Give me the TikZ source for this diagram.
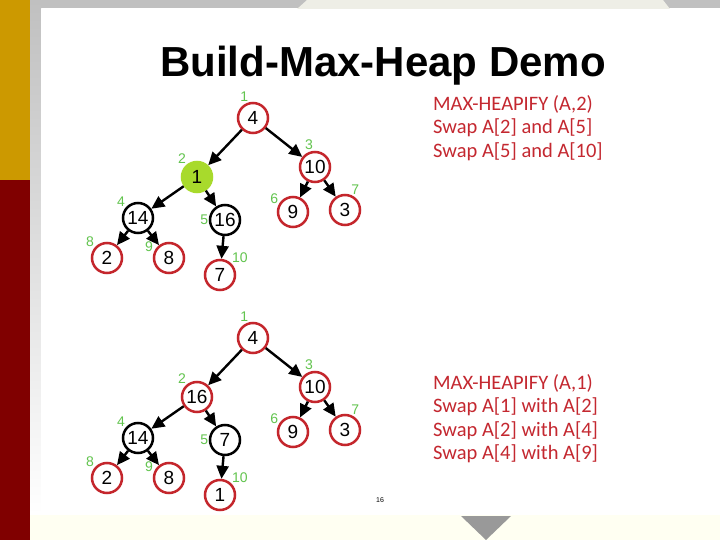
\documentclass[tikz,border=0pt]{standalone}
\usepackage{fontspec}
\setmainfont{Liberation Sans}
\newfontfamily\calibri{Carlito}
\usepackage{xcolor}
\usetikzlibrary{arrows.meta, positioning, calc}

\definecolor{heapred}{RGB}{196,38,44}
\definecolor{steptxt}{RGB}{196,40,48}
\definecolor{idxgreen}{RGB}{98,196,78}
\definecolor{hotgreen}{RGB}{168,218,44}
\definecolor{gold}{RGB}{204,153,0}
\definecolor{maroon}{RGB}{128,0,0}
\definecolor{bandgray}{RGB}{192,192,192}
\definecolor{tabgray}{RGB}{238,238,230}
\definecolor{cream}{RGB}{255,255,242}
\definecolor{trigray}{RGB}{153,153,153}

\begin{document}
\begin{tikzpicture}[x=1pt, y=-1pt,
    heap/.style={circle, draw=heapred, line width=2.5pt, minimum size=30pt, inner sep=0pt,
                 font=\fontsize{19}{19}\selectfont, label distance=0pt},
    done/.style={heap, draw=black},
    hot/.style={heap, draw=hotgreen, fill=hotgreen},
    idx/.style={font=\fontsize{14}{14}\selectfont, text=idxgreen, inner sep=0.5pt},
    arr/.style={-{Triangle[length=13pt, width=12pt]}, line width=2.4pt},
    steps/.style={font=\calibri\fontsize{20.5}{23.5}\selectfont, text=steptxt, align=left,
                  anchor=north west, inner sep=0pt},
]
\useasboundingbox (0,0) rectangle (720,540);

% --- Slide background ---
\fill[bandgray] (30,0) rectangle (720,8);
\fill[tabgray] (307,0) -- (663,0) -- (670,9) -- (297,9) -- cycle;
\fill[top color=bandgray, bottom color=white] (30,0) rectangle (41,515);
\fill[white] (41,9) rectangle (720,515);
\fill[cream] (30,515) rectangle (720,540);
\fill[gold] (0,0) rectangle (30,180);
\fill[maroon] (0,180) rectangle (30,540);
\fill[trigray] (461,516) -- (511,516) -- (486,540) -- cycle;

% --- Title ---
\node[font=\bfseries\fontsize{42}{42}\selectfont, anchor=base] (title) at (383,77) {Build-Max-Heap Demo};

% --- Tree 1: before MAX-HEAPIFY (A,1) ---
\node[heap, label={[idx]105:1}] (a1)  at (253,118) {4};
\node[hot,  label={[idx]130:2}] (a2)  at (197,177) {1};
\node[heap, label={[idx]95:3}]  (a3)  at (315,167) {10};
\node[done, label={[idx]140:4}] (a4)  at (138,218) {14};
\node[done, label={[idx]180:5}] (a5)  at (225,220) {16};
\node[heap, label={[idx]150:6}] (a6)  at (293,212) {9};
\node[heap, label={[idx]70:7}]  (a7)  at (345,210) {3};
\node[heap, label={[idx]140:8}] (a8)  at (107,258) {2};
\node[heap, label={[idx]160:9}] (a9)  at (169,258) {8};
\node[heap, label={[idx]45:10}] (a10) at (220,275) {7};

\draw[arr] (a1) -- (a2);
\draw[arr] (a1) -- (a3);
\draw[arr] (a2) -- (a4);
\draw[arr] (a2) -- (a5);
\draw[arr] (a3) -- (a6);
\draw[arr] (a3) -- (a7);
\draw[arr] (a4) -- (a8);
\draw[arr] (a4) -- (a9);
\draw[arr] (a5) -- (a10);

\node[steps] (note1) at (433,95) {MAX-HEAPIFY (A,2)\\Swap A[2] and A[5]\\Swap A[5] and A[10]};

% --- Tree 2: after MAX-HEAPIFY (A,1) ---
\node[heap, label={[idx]105:1}] (b1)  at (253,338) {4};
\node[heap, label={[idx]130:2}] (b2)  at (197,397) {16};
\node[heap, label={[idx]95:3}]  (b3)  at (315,387) {10};
\node[done, label={[idx]140:4}] (b4)  at (138,438) {14};
\node[done, label={[idx]180:5}] (b5)  at (225,440) {7};
\node[heap, label={[idx]150:6}] (b6)  at (293,432) {9};
\node[heap, label={[idx]70:7}]  (b7)  at (345,430) {3};
\node[heap, label={[idx]140:8}] (b8)  at (107,478) {2};
\node[heap, label={[idx]160:9}] (b9)  at (169,478) {8};
\node[heap, label={[idx]45:10}] (b10) at (220,495) {1};

\draw[arr] (b1) -- (b2);
\draw[arr] (b1) -- (b3);
\draw[arr] (b2) -- (b4);
\draw[arr] (b2) -- (b5);
\draw[arr] (b3) -- (b6);
\draw[arr] (b3) -- (b7);
\draw[arr] (b4) -- (b8);
\draw[arr] (b4) -- (b9);
\draw[arr] (b5) -- (b10);

\node[steps] (note2) at (433,374) {MAX-HEAPIFY (A,1)\\Swap A[1] with A[2]\\Swap A[2] with A[4]\\Swap A[4] with A[9]};

% --- Slide number ---
\node[font=\fontsize{7}{7}\selectfont] (page) at (380,500) {16};

\end{tikzpicture}
\end{document}
